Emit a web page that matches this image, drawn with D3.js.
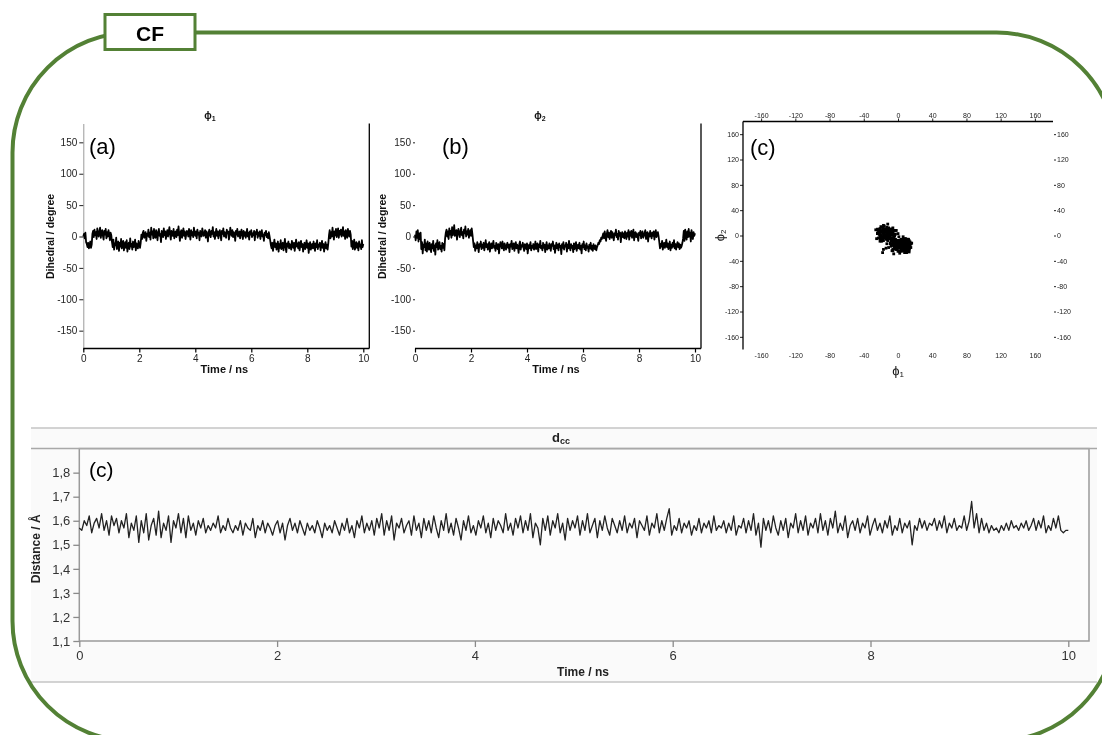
<!DOCTYPE html>
<html>
<head>
<meta charset="utf-8">
<script src="https://cdn.jsdelivr.net/npm/d3@7"></script>
<style>
  html, body { margin: 0; padding: 0; background: #ffffff; }
  svg { display: block; will-change: transform; }
  text { font-family: "Liberation Sans", Arial, sans-serif; }
</style>
</head>
<body>
<svg id="chart" width="1102" height="735"></svg>
<script>
// ---------------- DATA ----------------
const timeTicks = [0, 2, 4, 6, 8, 10];
const phiTicks = [-150, -100, -50, 0, 50, 100, 150];
const scatterTicks = [-160, -120, -80, -40, 0, 40, 80, 120, 160];
const distTicks = [1.1, 1.2, 1.3, 1.4, 1.5, 1.6, 1.7, 1.8];

// phi1 dihedral (degree), equally spaced over 0-10 ns
const phi1 = [
  0, 4, -3, 6, -9,
  -12, -17, -10, -19, -14, -8, -18, -13,
  4, 9, -1, 11, 2, 7, -4, 13, 5, 0, 8, 14, -2, 6, 10, 1, -5, 9, 3, 12, -3, 7, 0, 10, 4, -6, 6, 2,
  -9, -17, -5, -21, -11, -14, -2, -20, -13, -8,
  -23, -10, -16, -4, -19, -12, -7, -22, -15, -9,
  -18, -6, -24, -13, -10, -20, -3, -16, -12, -21,
  -8, -17, -14, -5, -22, -11, -15, -19, -7, -13,
  -18, -10,
  3, -4, 6, 9, -2, 2, 7, -7, 4, 1,
  11, -1, 6, -5, 14, 3, 8, -3, 12, 0,
  -2, 10, 5, -6, 7, 12, 1, 4, -9, 9,
  6, -1, 13, 2, 8, -4, 5, 10, 0, 7,
  15, 3, -5, 9, 4, 1, 12, -3, 6, 8,
  -1, 11, 2, 16, 4, -7, 7, 10, -2, 5,
  13, 1, 8, -4, 3, 9, 6, 0, 12, 4,
  -5, 10, 2, 7, -1, 14, 5, 1, 8, -3,
  11, 3, 6, -6, 9, 4, 0, 13, 7, 1,
  5, 10, -2, 8, 3, -8, 6, 11, 2, -1,
  9, 4, 15, 0, 7, -4, 5, 12, 1, 8,
  -3, 6, 10, 2, -6, 9, 4, 13, 0, 7,
  3, -2, 11, 5, 8, -5, 2, 14, 6, 1,
  10, -1, 7, 4, -7, 9, 3, 12, 0, 5,
  8, -3, 6, 11, 2, -4, 9, 1, 7, -2,
  4, 12, 0, 6, -5, 8, 3, 10, -1, 5,
  2, 9, -6, 7, 4, 11, -2, 6, 1, 8,
  -4, 5, 10, 0, 3, -7, 6, 2, 9, -1,
  4, -3, 7, 1,
  -6, -14, -19, -10, -23, -13, -5, -17, -11, -21,
  -15, -8, -24, -12, -18, -6, -20, -14, -10, -22,
  -13, -4, -17, -25, -11, -16, -8, -19, -12, -15,
  -21, -7, -14, -18, -10, -23, -13, -5, -16, -11,
  -19, -9, -22, -14, -7, -17, -12, -24, -15, -10,
  -20, -13, -6, -18, -11, -26, -14, -9, -21, -16,
  -12, -19, -8, -15, -23, -11, -17, -6, -20, -13,
  -16, -10, -22, -14, -7, -18, -12, -24, -15, -9,
  -19, -13, -21, -11,
  2, 10, -3, 7, 0, 14, 4, -5, 8, 2,
  12, -1, 5, 13, -2, 9, 3, 11, 0, 6,
  15, 1, 8, -4, 10, 4, -2, 12, 5, 0,
  9, 3,
  -16, -7, -20, -12, -5, -21, -14, -9, -18, -11, -22, -8, -16, -13, -20, -6, -17, -12
];

// phi2 dihedral (degree), equally spaced over 0-10 ns
const phi2 = [
  3, -6, 8, -2, 10, -8, 5, -4, 6,
  -20, -9, -27, -13, -17, -5, -22, -11, -24, -8,
  -16, -21, -10, -18, -25, -12, -19, -7, -23, -14,
  -29, -11, -17, -6, -21, -13, -9, -20, -15, -24,
  -10, -18, -12, -22,
  -3, 6, 11, 0, 8, -4, 13, 3, 9, -2,
  15, 2, 7, 18, 1, 5, 10, -5, 6, 12,
  4, -1, 9, 14, 2, 7, -3, 11, 5, 16,
  0, 8, 3, 12, -2, 6, 10, 1, 13, 4,
  -7, -17, -11, -23, -14, -19, -9, -15, -25, -12,
  -16, -8, -20, -13, -18, -10, -22, -15, -6, -17,
  -12, -21, -14, -9, -24, -16, -11, -19, -13, -7,
  -18, -15, -23, -10, -14, -20, -12, -27, -16, -9,
  -13, -19, -8, -17, -22, -11, -15, -21, -14, -10,
  -18, -13, -25, -12, -16, -7, -20, -14, -11, -23,
  -15, -9, -19, -13, -17, -26, -12, -8, -21, -14,
  -16, -10, -18, -23, -12, -15, -20, -11, -27, -17,
  -13, -19, -9, -22, -15, -18, -12, -21, -16, -8,
  -20, -14, -11, -24, -13, -17, -7, -19, -15, -22,
  -10, -18, -13, -25, -16, -9, -21, -14, -19, -11,
  -17, -23, -12, -15, -8, -20, -14, -26, -16, -10,
  -19, -13, -22, -11, -17, -15, -28, -12, -18, -9,
  -21, -14, -16, -10, -24, -13, -19, -7, -17, -22,
  -12, -18, -15, -25, -11, -20, -14, -9, -23, -16,
  -13, -19, -10, -21, -15, -27, -12, -17, -8, -20,
  -14, -22, -11, -18, -16, -24, -13, -19, -10, -21,
  -15, -23, -12, -18, -20, -14, -22, -17,
  -14, -10, -12, -6, -8, -2, -4, 1,
  5, -3, 8, 1, -7, 4, 10, -1, 6, -4,
  3, 9, -2, 7, 0, -6, 5, 2, 11, -1,
  4, -5, 9, 1, 6, -9, 3, 7, -1, 5,
  -3, 8, 2, -4, 6, 0, 10, -5, 7, 1,
  9, -2, 4, 11, -6, 3, 7, -1, 5, 0,
  -7, 6, 2, 9, -3, 4, 8, -2, 1, 6,
  10, -4, 3, 7, -8, 5, 0, 9, 2, -3,
  6, 1, 8, -5, 4, 10, -1, 3, 7, 0,
  -9, -19, -12, -16, -7, -21, -14, -10, -18, -13,
  -5, -17, -11, -20, -15, -8, -22, -13, -18, -10,
  -16, -6, -19, -12, -21, -14, -9, -17, -11, -20,
  -13, -18, -15, -10,
  -3, 9, -7, 11, 2, -5, 8, -1, 12, 0, 6, -8, 10, 3, -4, 7, 1, 5
];

// C-C distance (Angstrom), equally spaced over 0-10 ns
const dcc = [
  1.57,1.56,1.60,1.58,1.62,1.55,1.59,1.61,1.57,1.63,1.56,1.60,1.54,1.62,1.58,1.61,1.55,1.60,1.57,1.63,
  1.53,1.59,1.56,1.62,1.51,1.60,1.55,1.63,1.52,1.58,1.61,1.54,1.64,1.53,1.59,1.56,1.62,1.51,1.60,1.57,
  1.63,1.55,1.61,1.53,1.62,1.56,1.59,1.54,1.60,1.57,1.61,1.55,1.58,1.56,1.59,1.57,1.62,1.55,1.58,1.56,
  1.61,1.57,1.55,1.58,1.56,1.60,1.54,1.59,1.57,1.56,1.61,1.53,1.58,1.56,1.60,1.55,1.59,1.57,1.54,1.58,
  1.60,1.55,1.59,1.52,1.58,1.61,1.56,1.59,1.55,1.60,1.57,1.54,1.59,1.56,1.58,1.55,1.60,1.57,1.53,1.59,
  1.56,1.58,1.55,1.60,1.57,1.54,1.59,1.56,1.61,1.55,1.58,1.53,1.60,1.57,1.62,1.55,1.59,1.56,1.60,1.54,
  1.61,1.57,1.63,1.54,1.60,1.56,1.62,1.52,1.59,1.57,1.61,1.55,1.58,1.60,1.54,1.62,1.56,1.59,1.53,1.61,
  1.56,1.60,1.55,1.62,1.57,1.53,1.60,1.56,1.63,1.55,1.59,1.54,1.61,1.57,1.52,1.60,1.56,1.62,1.55,1.58,
  1.54,1.60,1.57,1.62,1.55,1.59,1.53,1.61,1.56,1.60,1.58,1.55,1.63,1.56,1.59,1.54,1.61,1.57,1.62,1.55,
  1.60,1.56,1.63,1.53,1.59,1.57,1.50,1.61,1.56,1.62,1.54,1.60,1.57,1.63,1.55,1.59,1.52,1.61,1.56,1.60,
  1.57,1.62,1.54,1.60,1.56,1.63,1.55,1.58,1.61,1.53,1.60,1.56,1.62,1.57,1.54,1.61,1.58,1.55,1.60,1.56,
  1.62,1.55,1.59,1.57,1.61,1.53,1.60,1.58,1.56,1.62,1.54,1.59,1.57,1.63,1.55,1.60,1.56,1.61,1.65,1.54,
  1.58,1.56,1.61,1.55,1.59,1.57,1.60,1.54,1.58,1.56,1.61,1.55,1.59,1.57,1.60,1.55,1.62,1.56,1.58,1.57,
  1.60,1.55,1.59,1.56,1.62,1.54,1.58,1.57,1.61,1.55,1.60,1.56,1.63,1.54,1.59,1.49,1.61,1.56,1.60,1.55,
  1.62,1.57,1.54,1.60,1.56,1.61,1.53,1.59,1.57,1.63,1.55,1.60,1.56,1.62,1.54,1.59,1.57,1.61,1.55,1.63,
  1.56,1.60,1.54,1.61,1.57,1.64,1.55,1.59,1.56,1.62,1.53,1.58,1.60,1.56,1.61,1.55,1.59,1.57,1.62,1.54,
  1.58,1.61,1.56,1.59,1.55,1.60,1.57,1.62,1.54,1.58,1.56,1.61,1.55,1.59,1.57,1.60,1.50,1.58,1.56,1.61,
  1.57,1.60,1.56,1.59,1.58,1.61,1.56,1.60,1.57,1.62,1.55,1.59,1.57,1.61,1.56,1.58,1.57,1.62,1.56,1.60,
  1.68,1.57,1.63,1.55,1.61,1.56,1.59,1.55,1.58,1.56,1.57,1.55,1.58,1.56,1.59,1.56,1.60,1.57,1.58,1.56,
  1.59,1.57,1.60,1.56,1.58,1.61,1.56,1.60,1.57,1.62,1.55,1.58,1.56,1.61,1.57,1.62,1.56,1.55,1.56,1.56
];

const timeMax = 10;

// ---------------- DRAWING ----------------
const svg = d3.select("#chart");
const GREEN = "#538135";
const intFmt = d => String(d);
const commaFmt = d3.formatLocale({decimal: ",", thousands: ".", grouping: [3], currency: ["", ""], minus: "-"}).format(".1f");

function series(vals) {
  const step = timeMax / (vals.length - 1);
  return vals.map((v, i) => ({t: i * step, v}));
}

// ---- Bottom band background (d_cc panel) ----
const band = svg.append("g");
band.append("rect").attr("x", 31).attr("y", 428).attr("width", 1066).attr("height", 254).attr("fill", "#fafafa");
band.append("line").attr("x1", 31).attr("x2", 1097).attr("y1", 428).attr("y2", 428).attr("stroke", "#c4c4c4").attr("stroke-width", 1.5);
band.append("line").attr("x1", 31).attr("x2", 1097).attr("y1", 682).attr("y2", 682).attr("stroke", "#c4c4c4").attr("stroke-width", 1.5);

// ---- Time-series dihedral panels (a) and (b) ----
function phiPanel(vals, o) {
  const g = svg.append("g");
  const x = d3.scaleLinear().domain([0, timeMax]).range([o.x0, o.x1]);
  const y = d3.scaleLinear().domain([-180, 180]).range([349.5, 123.5]);
  const xRight = o.x1 + 6;

  const ya = d3.axisLeft(y).tickValues(phiTicks).tickFormat(intFmt).tickSize(o.yTick).tickSizeOuter(0).tickPadding(2);
  const yg = g.append("g").attr("transform", `translate(${o.x0},0)`).call(ya);
  yg.select(".domain").attr("stroke", o.yAxisLine ? "#9a9a9a" : "none").attr("stroke-width", 1);
  yg.selectAll(".tick line").attr("stroke", "#222");
  yg.selectAll("text").attr("font-size", 10).attr("fill", "#222");

  const xa = d3.axisBottom(x).tickValues(timeTicks).tickFormat(intFmt).tickSize(4).tickSizeOuter(0).tickPadding(2);
  const xg = g.append("g").attr("transform", `translate(0,${y(-180) - 1})`).call(xa);
  xg.select(".domain").remove();
  xg.selectAll(".tick line").attr("stroke", "#000").attr("stroke-width", 1.2);
  xg.selectAll("text").attr("font-size", 10).attr("fill", "#222");
  g.append("line").attr("x1", o.x0).attr("x2", xRight).attr("y1", y(-180) - 1).attr("y2", y(-180) - 1)
    .attr("stroke", "#000").attr("stroke-width", 1.6);
  g.append("line").attr("x1", xRight).attr("x2", xRight).attr("y1", y(180)).attr("y2", y(-180) - 1)
    .attr("stroke", "#000").attr("stroke-width", 1.3);

  const line = d3.line().x(d => x(d.t)).y(d => y(d.v));
  g.append("path").datum(series(vals)).attr("d", line).attr("fill", "none")
    .attr("stroke", "#000").attr("stroke-width", 1.8).attr("stroke-linejoin", "round");

  g.append("text").attr("transform", `translate(${o.ylx},${y(0)}) rotate(-90)`).attr("text-anchor", "middle")
    .attr("dy", "0.35em").attr("font-size", 10.5).attr("font-weight", "bold").attr("fill", "#111").text("Dihedral / degree");
  g.append("text").attr("x", (x(0) + x(10)) / 2 + 1).attr("y", 373).attr("text-anchor", "middle")
    .attr("font-size", 11).attr("font-weight", "bold").attr("fill", "#111").text("Time / ns");
  const tt = g.append("text").attr("x", o.titleX).attr("y", 119).attr("text-anchor", "middle")
    .attr("font-size", 10).attr("font-weight", "bold").attr("fill", "#111");
  tt.append("tspan").text("ϕ");
  tt.append("tspan").attr("font-size", 7).attr("dy", 2).text(o.sub);
  g.append("text").attr("x", o.labX).attr("y", 154).attr("font-family", "Lato, 'Open Sans', sans-serif")
    .attr("font-size", 22).attr("fill", "#000").text(o.lab);
}

phiPanel(phi1, {x0: 83.3, x1: 363.3, yTick: 4, yAxisLine: true, ylx: 50, titleX: 210, sub: "1", lab: "(a)", labX: 89});
phiPanel(phi2, {x0: 415, x1: 695, yTick: 2, yAxisLine: false, ylx: 382, titleX: 540, sub: "2", lab: "(b)", labX: 442});

// ---- Scatter panel (c) ----
(function () {
  const g = svg.append("g");
  const x = d3.scaleLinear().domain([-180, 180]).range([744, 1052]);
  const y = d3.scaleLinear().domain([-180, 180]).range([349.5, 121.5]);

  const top = g.append("g").attr("transform", `translate(0,${y(180)})`)
    .call(d3.axisTop(x).tickValues(scatterTicks).tickFormat(intFmt).tickSize(3).tickSizeOuter(0).tickPadding(1));
  top.select(".domain").remove();
  g.append("line").attr("x1", x(-180) - 1).attr("x2", x(180) + 1).attr("y1", y(180)).attr("y2", y(180))
    .attr("stroke", "#000").attr("stroke-width", 1.4);

  const bot = g.append("g").attr("transform", `translate(0,${y(-180) + 1})`)
    .call(d3.axisBottom(x).tickValues(scatterTicks).tickFormat(intFmt).tickSize(0).tickPadding(3));
  bot.select(".domain").remove();

  const left = g.append("g").attr("transform", `translate(${x(-180) - 1},0)`)
    .call(d3.axisLeft(y).tickValues(scatterTicks).tickFormat(intFmt).tickSize(3).tickSizeOuter(0).tickPadding(1));
  left.select(".domain").remove();
  g.append("line").attr("x1", x(-180) - 1).attr("x2", x(-180) - 1).attr("y1", y(180)).attr("y2", y(-180))
    .attr("stroke", "#000").attr("stroke-width", 1.3);

  const right = g.append("g").attr("transform", `translate(${x(180) + 2},0)`)
    .call(d3.axisRight(y).tickValues(scatterTicks).tickFormat(intFmt).tickSize(2).tickSizeOuter(0).tickPadding(1));
  right.select(".domain").remove();

  [top, bot, left, right].forEach(a => {
    a.selectAll("text").attr("font-size", 7).attr("fill", "#222");
    a.selectAll(".tick line").attr("stroke", "#222");
  });

  const pts = phi1.map((v, i) => ({a: v, b: phi2[Math.min(i, phi2.length - 1)]}));
  g.append("g").selectAll("rect").data(pts).join("rect")
    .attr("x", d => x(d.a) - 1.4).attr("y", d => y(d.b) - 1.4)
    .attr("width", 2.8).attr("height", 2.8).attr("fill", "#000");

  const xl = g.append("text").attr("x", x(0)).attr("y", 375).attr("text-anchor", "middle").attr("font-size", 13).attr("fill", "#111");
  xl.append("tspan").text("ϕ");
  xl.append("tspan").attr("font-size", 8).attr("dy", 2).text("1");
  const yl = g.append("text").attr("transform", `translate(724,${y(0)}) rotate(-90)`).attr("text-anchor", "middle").attr("font-size", 13).attr("fill", "#111");
  yl.append("tspan").text("ϕ");
  yl.append("tspan").attr("font-size", 8).attr("dy", 2).text("2");

  g.append("text").attr("x", 750).attr("y", 155).attr("font-family", "Lato, 'Open Sans', sans-serif")
    .attr("font-size", 22).attr("fill", "#000").text("(c)");
})();

// ---- Distance panel ----
(function () {
  const g = svg.append("g");
  const x = d3.scaleLinear().domain([0, timeMax]).range([79.3, 1068.3]);
  const y = d3.scaleLinear().domain([1.1, 1.9]).range([641, 448.6]);
  const frameRight = 1089;

  g.append("rect").attr("x", x(0)).attr("y", y(1.9)).attr("width", frameRight - x(0)).attr("height", y(1.1) - y(1.9))
    .attr("fill", "#fcfcfc").attr("stroke", "#9a9a9a").attr("stroke-width", 1.5);
  g.append("line").attr("x1", 31).attr("x2", 1097).attr("y1", y(1.9)).attr("y2", y(1.9)).attr("stroke", "#a8a8a8").attr("stroke-width", 1.5);

  const ya = g.append("g").attr("transform", `translate(${x(0)},0)`)
    .call(d3.axisLeft(y).tickValues(distTicks).tickFormat(commaFmt).tickSize(6).tickSizeOuter(0).tickPadding(3));
  ya.select(".domain").remove();
  const xa = g.append("g").attr("transform", `translate(0,${y(1.1)})`)
    .call(d3.axisBottom(x).tickValues(timeTicks).tickFormat(intFmt).tickSize(6).tickSizeOuter(0).tickPadding(4));
  xa.select(".domain").remove();
  [ya, xa].forEach(a => {
    a.selectAll("text").attr("font-size", 13).attr("fill", "#333");
    a.selectAll(".tick line").attr("stroke", "#8a8a8a").attr("stroke-width", 1.3);
  });

  const line = d3.line().x(d => x(d.t)).y(d => y(d.v));
  g.append("path").datum(series(dcc)).attr("d", line).attr("fill", "none")
    .attr("stroke", "#222").attr("stroke-width", 1.3).attr("stroke-linejoin", "round");

  g.append("text").attr("transform", `translate(40,${y(1.5) + 4}) rotate(-90)`).attr("text-anchor", "middle")
    .attr("font-size", 12).attr("font-weight", "bold").attr("fill", "#222").text("Distance / Å");
  g.append("text").attr("x", 583).attr("y", 676).attr("text-anchor", "middle")
    .attr("font-size", 12).attr("font-weight", "bold").attr("fill", "#222").text("Time / ns");
  const t = g.append("text").attr("x", 561).attr("y", 442).attr("text-anchor", "middle")
    .attr("font-size", 13).attr("font-weight", "bold").attr("fill", "#222");
  t.append("tspan").text("d");
  t.append("tspan").attr("font-size", 9).attr("dy", 2).text("cc");

  g.append("text").attr("x", 89).attr("y", 477).attr("font-family", "Lato, 'Open Sans', sans-serif")
    .attr("font-size", 21).attr("fill", "#000").text("(c)");
})();

// ---- Green rounded frame and CF label ----
svg.append("rect").attr("x", 12.5).attr("y", 32.5).attr("width", 1104).attr("height", 708.5).attr("rx", 120).attr("ry", 120)
  .attr("fill", "none").attr("stroke", GREEN).attr("stroke-width", 4);
svg.append("rect").attr("x", 105).attr("y", 14.5).attr("width", 90).attr("height", 35)
  .attr("fill", "#fff").attr("stroke", GREEN).attr("stroke-width", 3);
svg.append("text").attr("x", 150).attr("y", 40.5).attr("text-anchor", "middle")
  .attr("font-family", "Lato, 'Open Sans', sans-serif").attr("font-weight", "bold").attr("font-size", 21)
  .attr("fill", "#000").text("CF");
</script>
</body>
</html>
